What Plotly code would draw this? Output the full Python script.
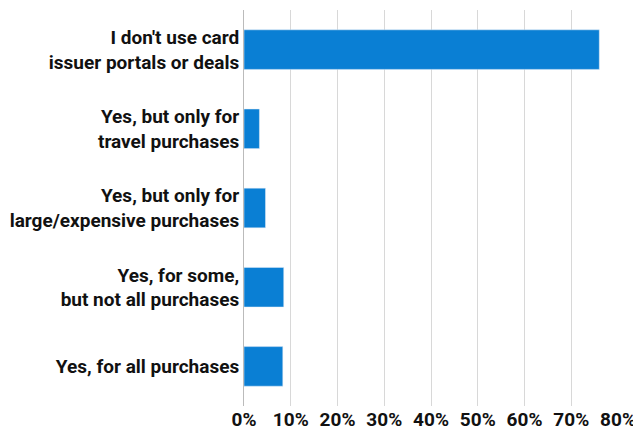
import plotly.graph_objects as go

categories = [
    "Yes, for all purchases",
    "Yes, for some,<br>but not all purchases",
    "Yes, but only for<br>large/expensive purchases",
    "Yes, but only for<br>travel purchases",
    "I don't use card<br>issuer portals or deals",
]
values = [8.3, 8.5, 4.6, 3.3, 76.0]
tick_vals = [0, 10, 20, 30, 40, 50, 60, 70, 80]
tick_text = ["%d%%" % v for v in tick_vals]

FONT = "Liberation Sans Narrow, Roboto"

fig = go.Figure(go.Bar(
    x=values, y=categories, orientation="h",
    marker_color="#0a7fd4", width=0.5,
))
fig.update_layout(
    width=641, height=440,
    margin=dict(l=218, r=31, t=2, b=42),
    plot_bgcolor="white", paper_bgcolor="white",
    font=dict(family=FONT, size=19, color="#111"),
    showlegend=False,
)
fig.update_xaxes(range=[0, 80], tickvals=tick_vals, ticktext=tick_text,
                 showgrid=True, gridcolor="#d8d8d8", zeroline=False,
                 tickfont=dict(size=19, family=FONT, weight="bold"))
fig.update_yaxes(tickfont=dict(size=19, family=FONT, weight="bold"),
                 showline=True, linecolor="#bbb", ticks="", ticklen=0)
fig.write_html("out.html")
